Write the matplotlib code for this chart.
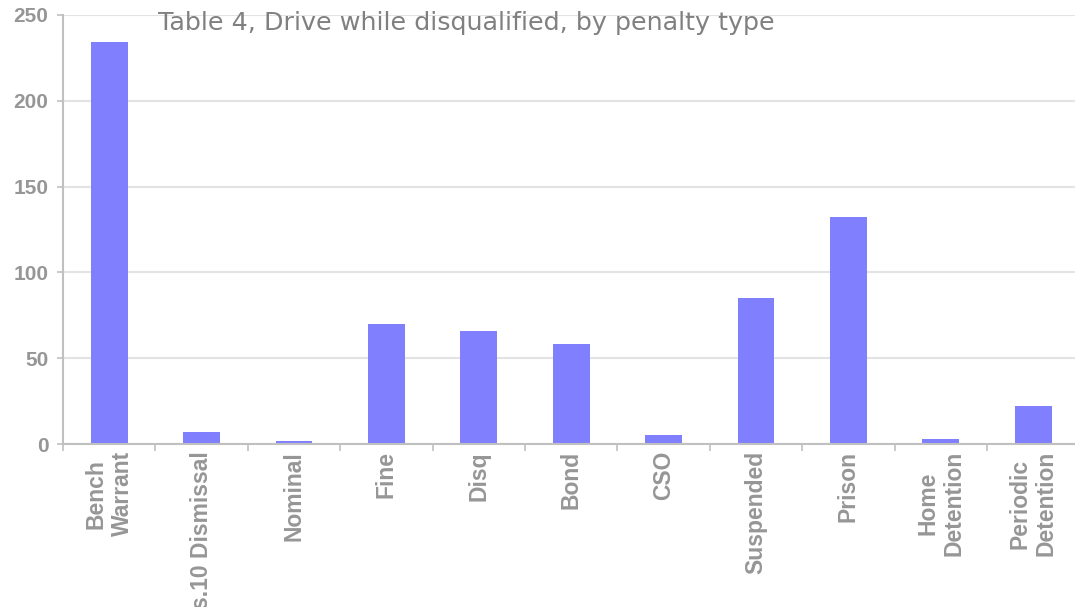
import matplotlib
matplotlib.use("Agg")
import matplotlib.pyplot as plt
import numpy as np

# Penalty types and counts
categories = ["Bench\nWarrant", "s.10 Dismissal", "Nominal", "Fine", "Disq", "Bond",
              "CSO", "Suspended", "Prison", "Home\nDetention", "Periodic\nDetention"]
counts = [234, 7, 2, 70, 66, 58, 5, 85, 132, 3, 22]
y_ticks = [0, 50, 100, 150, 200, 250]
title = "Table 4, Drive while disqualified, by penalty type"

bar_color = "#8080FF"
label_color = "#969696"
axis_color = "#C0C0C0"
grid_color = "#E3E3E3"

fig = plt.figure(figsize=(10.75, 6.07), dpi=100)
ax = fig.add_axes([63 / 1075, 163 / 607, 1016.4 / 1075, 429 / 607])

x = np.arange(len(categories))
ax.bar(x, counts, width=0.4, color=bar_color, zorder=3)

ax.set_xlim(-0.5, len(categories) - 0.5)
ax.set_ylim(0, 250)

# y axis: gridlines, ticks and bold grey labels
ax.set_yticks(y_ticks)
ax.set_yticklabels([str(v) for v in y_ticks], fontsize=15, fontweight="bold",
                   color=label_color, family="Liberation Sans")
ax.yaxis.grid(True, color=grid_color, linewidth=1.5, zorder=0)
ax.tick_params(axis="y", length=4.5, width=1.2, color=axis_color, pad=6)

# x axis: tick marks between categories, labels at category centres
ax.set_xticks(np.arange(-0.5, len(categories), 1.0))
ax.set_xticklabels([])
ax.set_xticks(x, minor=True)
ax.set_xticklabels(categories, minor=True, rotation=90, fontsize=16.5,
                   fontweight="bold", color=label_color, family="Liberation Sans",
                   ha="center", va="top", multialignment="center")
ax.tick_params(axis="x", which="major", length=5, width=1.2, color=axis_color)
ax.tick_params(axis="x", which="minor", length=0, pad=5)

for side in ("top", "right"):
    ax.spines[side].set_visible(False)
for side in ("left", "bottom"):
    ax.spines[side].set_color(axis_color)
    ax.spines[side].set_linewidth(1.5)
    ax.spines[side].set_zorder(4)

fig.text(158 / 1075, 1 - 11 / 607, title, fontsize=18.3, color="#808080",
         family="DejaVu Sans", ha="left", va="top")

fig.savefig("out.png", dpi=100)
